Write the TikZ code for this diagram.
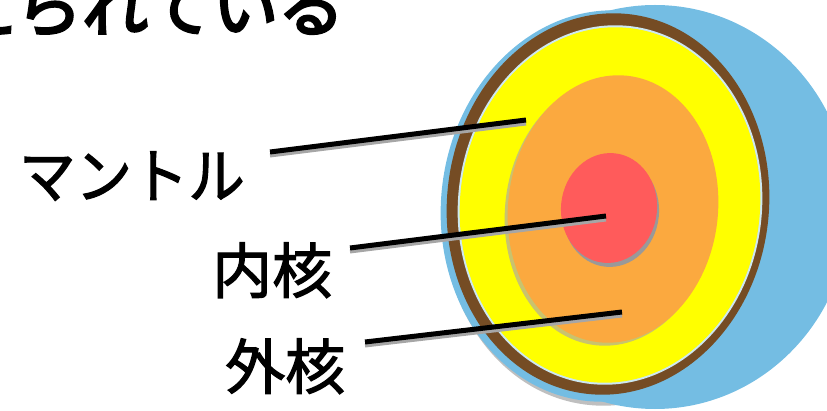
\documentclass[tikz,border=0pt]{standalone}
\usepackage{fontspec}
\newfontfamily\jplabelfont{Noto Sans CJK JP}[FakeBold=2]
\newfontfamily\jpheadfont{Noto Sans CJK JP}[FakeBold=4]
\definecolor{ocean}{HTML}{74BDE3}
\definecolor{crust}{HTML}{754C24}
\definecolor{mantlecol}{HTML}{FFFF00}
\definecolor{outercol}{HTML}{FBA93F}
\definecolor{innercol}{HTML}{FF5B5B}
\definecolor{rimline}{HTML}{CDE8F2}
\definecolor{coreshade}{HTML}{C9C36E}
\begin{document}
\begin{tikzpicture}[x=1pt,y=-1pt,
  lbl/.style={anchor=base west, inner sep=0pt, font=\jplabelfont\fontsize{60}{60}\selectfont},
  headline/.style={anchor=base west, inner sep=0pt, font=\jpheadfont\fontsize{66}{66}\selectfont},
  leader/.style={line width=5pt, black},
  leadershade/.style={line width=4pt, black!35},
  tilt/.style={rotate around={-6:#1}}]
\useasboundingbox (0,0) rectangle (827,411);
\clip (0,0) rectangle (827,411);

% heading, its upper half runs off the page
\node[headline] (heading) at (-50,31) {えられている};

% soft shadow under the globe
\begin{scope}
  \clip (420,280) rectangle (720,411);
  \fill[black!25, tilt={(609,210)}] (609,210) ellipse [x radius=166pt, y radius=196pt];
\end{scope}

% globe body
\fill[ocean] (655,207) ellipse [x radius=195pt, y radius=202pt];
\fill[ocean, tilt={(607,206)}] (607,206) ellipse [x radius=166pt, y radius=196pt];
% crust
\fill[crust, tilt={(608,204)}] (608,204) ellipse [x radius=161pt, y radius=191pt];
\fill[rimline, tilt={(610,205)}] (610,205) ellipse [x radius=152pt, y radius=180pt];
% mantle
\fill[mantlecol, tilt={(610,205)}] (610,205) ellipse [x radius=150pt, y radius=178pt];
% outer core
\fill[coreshade, tilt={(610,212)}] (610,212) ellipse [x radius=105pt, y radius=134pt];
\fill[outercol, tilt={(613,209)}] (613,209) ellipse [x radius=105pt, y radius=134pt];
% inner core
\fill[black!40, tilt={(611,212)}] (611,212) ellipse [x radius=48pt, y radius=55pt];
\fill[innercol, tilt={(609,208)}] (609,208) ellipse [x radius=48pt, y radius=55pt];

% labels
\node[lbl, xscale=0.94] (mantle) at (19,198) {マントル};
\node[lbl] (inner) at (212,293) {内核};
\node[lbl] (outer) at (225,389) {外核};

% leader end points
\coordinate (mantleA) at (270,152);
\coordinate (mantleB) at (526,120);
\coordinate (innerA) at (350,248);
\coordinate (innerB) at (606,216);
\coordinate (outerA) at (365,342);
\coordinate (outerB) at (622,312);

\foreach \a/\b in {mantleA/mantleB, innerA/innerB, outerA/outerB} {
  \draw[leadershade] ([yshift=-3.5pt]\a) -- ([yshift=-3.5pt]\b);
  \draw[leader] (\a) -- (\b);
}
\end{tikzpicture}
\end{document}
